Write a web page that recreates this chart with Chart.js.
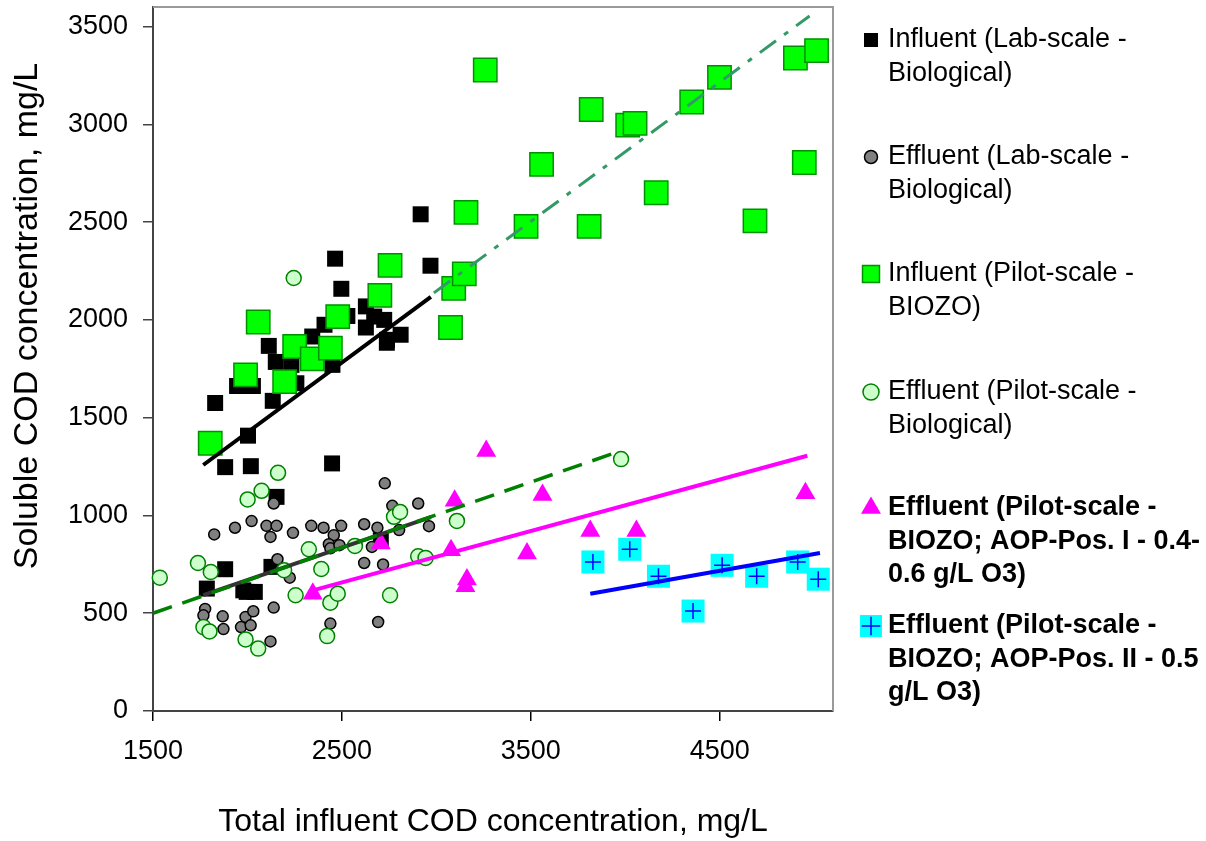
<!DOCTYPE html>
<html>
<head>
<meta charset="utf-8">
<title>Soluble vs total influent COD</title>
<script src="https://cdn.jsdelivr.net/npm/chart.js@4.4.0/dist/chart.umd.min.js"></script>
<style>
    html, body { margin: 0; padding: 0; background: #ffffff; }
    #wrap { width: 1206px; height: 841px; }
</style>
</head>
<body>
<div id="wrap"><canvas id="codChart" width="1206" height="841"></canvas></div>
<script>
// ---- axis ticks ----
const xTicks = [1500, 2500, 3500, 4500];
const yTicks = [0, 500, 1000, 1500, 2000, 2500, 3000, 3500];

// ---- series labels (line breaks as in the legend) ----
const seriesLabels = [
    'Influent (Lab-scale -\nBiological)',
    'Effluent (Lab-scale -\nBiological)',
    'Influent (Pilot-scale -\nBIOZO)',
    'Effluent (Pilot-scale -\nBiological)',
    'Effluent (Pilot-scale -\nBIOZO; AOP-Pos. I - 0.4-\n0.6 g/L O3)',
    'Effluent (Pilot-scale -\nBIOZO; AOP-Pos. II - 0.5\ng/L O3)'
];

// Influent (Lab-scale - Biological)
const labInfX = [1803, 1829, 1882, 2018, 2003, 1945, 2029, 2113, 2150, 2134, 2917, 2464, 2969, 2497, 2627, 2671, 2724, 2627,
    2739, 2811, 2408, 2343, 2450, 2448, 2154, 1882, 1785, 1996, 2039, 2127, 2706, 2738, 1978, 2233, 2529, 2259];
const labInfY = [1351, 1575, 1247, 1252, 1408, 1662, 1662, 1867, 1785, 1586, 2540, 2313, 2277, 2159, 2069, 2017, 2000, 1961,
    1898, 1924, 1975, 1915, 1770, 1266, 1095, 725, 626, 609, 609, 737, 873, 1883, 617, 1770, 2020, 1676];

// Effluent (Lab-scale - Biological)
const labEffX = [2727, 2139, 2904, 2767, 2022, 1934, 1824, 2101, 2154, 2122, 2241, 2338, 2403, 2496, 2457, 2618, 2688, 2961,
    2803, 2431, 2439, 2487, 2659, 2159, 2224, 2618, 2718, 1776, 1767, 1869, 1873, 1966, 1990, 2031, 2017, 2139, 2122, 2439, 2692];
const labEffY = [1164, 1061, 1061, 1049, 971, 937, 903, 947, 947, 890, 911, 947, 937, 947, 899, 955, 937, 945,
    925, 853, 832, 848, 839, 776, 682, 757, 749, 522, 489, 484, 419, 429, 481, 510, 438, 529, 356, 447, 455];

// Influent (Pilot-scale - BIOZO)
const pilotInfX = [1803, 1990, 2057, 2197, 2250, 2343, 2439, 2478, 2701, 2755, 3075, 3092, 3148, 3157, 3259, 3475, 3557, 3809,
    3820, 4013, 4052, 4164, 4352, 4499, 4687, 4901, 4948, 5013];
const pilotInfY = [1369, 1719, 1989, 1684, 1864, 1801, 1856, 2017, 2125, 2279, 1961, 2161, 2235, 2550, 3278, 2478, 2795, 2478,
    3076, 2996, 3005, 2650, 3114, 3240, 2506, 3339, 2805, 3377];

// Effluent (Pilot-scale - Biological)
const pilotEffX = [1536, 1738, 1806, 1767, 1799, 1990, 2057, 2162, 2075, 2001, 2194, 2255, 2325, 2391, 2439, 2478, 2422, 2569,
    2755, 2776, 2808, 2904, 2943, 3109, 2245, 3978];
const pilotEffY = [682, 757, 711, 429, 407, 366, 319, 1218, 1126, 1082, 720, 592, 827, 726, 554, 600, 383, 844,
    592, 993, 1018, 791, 783, 972, 2214, 1288];

// Effluent (Pilot-scale - BIOZO; AOP-Pos. I)
const aopOneX = [3264, 3097, 3562, 4954, 3815, 4059, 3078, 3480, 3162, 3154, 2706, 2346];
const aopOneY = [1329, 1075, 1104, 1113, 921, 921, 822, 805, 672, 638, 857, 600];

// Effluent (Pilot-scale - BIOZO; AOP-Pos. II)
const aopTwoX = [3829, 4024, 4176, 4359, 4513, 4696, 4913, 5022];
const aopTwoY = [762, 827, 689, 511, 745, 689, 762, 674];

// Trend lines (end points)
const labInfTrendX = [1766, 2971];
const labInfTrendY = [1258, 2118];
const pilotInfTrendX = [2987, 4976];
const pilotInfTrendY = [2138, 3554];
const labEffTrendX = [1766, 2971];
const labEffTrendY = [592, 991];
const pilotEffTrendX = [1500, 3943];
const pilotEffTrendY = [500, 1319];
const aopOneTrendX = [2346, 4964];
const aopOneTrendY = [617, 1305];
const aopTwoTrendX = [3815, 5031];
const aopTwoTrendY = [600, 808];

const FONT = '"Liberation Sans", Arial, sans-serif';

function toPoints(xs, ys) {
    return xs.map((x, i) => ({ x: x, y: ys[i] }));
}

// Draw one marker shape the same way Chart.js does
function drawMarker(ctx, style, x, y, r, fill, stroke, lineWidth) {
    ctx.save();
    ctx.beginPath();
    if (style === 'rect') {
        const s = r * Math.SQRT1_2;
        ctx.rect(x - s, y - s, 2 * s, 2 * s);
    } else if (style === 'circle') {
        ctx.arc(x, y, r, 0, Math.PI * 2);
    } else if (style === 'triangle') {
        const w = r * Math.sin(Math.PI * 2 / 3);
        ctx.moveTo(x, y - r);
        ctx.lineTo(x + w, y + r / 2);
        ctx.lineTo(x - w, y + r / 2);
        ctx.closePath();
    } else if (style === 'cross') {
        ctx.moveTo(x, y - r);
        ctx.lineTo(x, y + r);
        ctx.moveTo(x - r, y);
        ctx.lineTo(x + r, y);
    }
    if (fill && style !== 'cross') {
        ctx.fillStyle = fill;
        ctx.fill();
    }
    if (stroke && lineWidth) {
        ctx.strokeStyle = stroke;
        ctx.lineWidth = lineWidth;
        ctx.stroke();
    }
    ctx.restore();
}

// Plot frame (top and right edges) drawn under the markers
const plotFrame = {
    id: 'plotFrame',
    beforeDatasetsDraw(chart) {
        const { ctx, chartArea } = chart;
        ctx.save();
        ctx.strokeStyle = '#9a9a9a';
        ctx.lineWidth = 2;
        ctx.beginPath();
        ctx.moveTo(chartArea.left, chartArea.top);
        ctx.lineTo(chartArea.right, chartArea.top);
        ctx.lineTo(chartArea.right, chartArea.bottom);
        ctx.stroke();
        ctx.restore();
    }
};

// Vertical axis title, placed like the original (a bit above the axis centre)
const yTitle = {
    id: 'yTitle',
    afterDraw(chart, args, opts) {
        const ctx = chart.ctx;
        ctx.save();
        ctx.translate(opts.x, opts.y);
        ctx.rotate(-Math.PI / 2);
        ctx.font = opts.size + 'px ' + FONT;
        ctx.fillStyle = '#000';
        ctx.textAlign = 'center';
        ctx.textBaseline = 'middle';
        ctx.fillText(opts.text, 0, 0);
        ctx.restore();
    }
};

// Legend on the right with wrapped labels
const sideLegend = {
    id: 'sideLegend',
    afterDraw(chart, args, opts) {
        const ctx = chart.ctx;
        opts.rows.forEach((rowY, i) => {
            const ds = chart.data.datasets[i];
            const r = opts.iconRadius[i];
            drawMarker(ctx, ds.pointStyle, opts.iconX, rowY, r, ds.backgroundColor, ds.borderColor, ds.borderWidth);
            if (i === 5) {
                const cross = chart.data.datasets[6];
                drawMarker(ctx, 'cross', opts.iconX, rowY, r * 0.6, null, cross.borderColor, cross.borderWidth);
            }
            ctx.save();
            ctx.font = (opts.bold[i] ? 'bold ' : '') + opts.size + 'px ' + FONT;
            ctx.fillStyle = '#000';
            ctx.textAlign = 'left';
            ctx.textBaseline = 'middle';
            seriesLabels[i].split('\n').forEach((line, k) => {
                ctx.fillText(line, opts.textX, rowY + k * opts.lineHeight);
            });
            ctx.restore();
        });
    }
};

function markerSet(label, xs, ys, style, radius, fill, stroke, width, order) {
    return {
        label: label,
        data: toPoints(xs, ys),
        pointStyle: style,
        pointRadius: radius,
        pointHoverRadius: radius,
        backgroundColor: fill,
        borderColor: stroke,
        borderWidth: width,
        showLine: false,
        clip: false,
        order: order
    };
}

function trendSet(xs, ys, color, width, dash, order) {
    return {
        label: 'trend',
        data: toPoints(xs, ys),
        showLine: true,
        pointRadius: 0,
        pointHoverRadius: 0,
        borderColor: color,
        backgroundColor: color,
        borderWidth: width,
        borderDash: dash,
        fill: false,
        order: order
    };
}

// plain numbers on the axes (no thousands separator)
function plainTick(value) {
    return String(value);
}

function initializeCodChart() {
    const canvas = document.getElementById('codChart');
    if (!canvas) {
        console.error('Chart canvas not found');
        return;
    }

    const datasets = [
        markerSet(seriesLabels[0], labInfX, labInfY, 'rect', 11.3, '#000000', '#000000', 0, 20),
        markerSet(seriesLabels[1], labEffX, labEffY, 'circle', 5.5, '#808080', '#000000', 1.5, 19),
        markerSet(seriesLabels[2], pilotInfX, pilotInfY, 'rect', 16.5, '#00ff00', '#009100', 1.5, 18),
        markerSet(seriesLabels[3], pilotEffX, pilotEffY, 'circle', 7.5, '#ccffcc', '#008000', 1.5, 17),
        markerSet(seriesLabels[4], aopOneX, aopOneY, 'triangle', 11.5, '#ff00ff', '#ff00ff', 0, 16),
        markerSet(seriesLabels[5], aopTwoX, aopTwoY, 'rect', 16.3, '#00ffff', '#00ffff', 0, 15),
        markerSet('cross', aopTwoX, aopTwoY, 'cross', 8, '#0000ff', '#0000ff', 1.5, 14),
        trendSet(labInfTrendX, labInfTrendY, '#000000', 4, [], 6),
        trendSet(pilotInfTrendX, pilotInfTrendY, '#339966', 3, [20, 10, 5, 10], 5),
        trendSet(labEffTrendX, labEffTrendY, '#333333', 4, [], 4),
        trendSet(pilotEffTrendX, pilotEffTrendY, '#008000', 3.5, [20, 11], 3),
        trendSet(aopOneTrendX, aopOneTrendY, '#ff00ff', 4, [], 2),
        trendSet(aopTwoTrendX, aopTwoTrendY, '#0000ff', 4, [], 1)
    ];

    try {
        const chart = new Chart(canvas.getContext('2d'), {
            type: 'scatter',
            data: { datasets: datasets },
            plugins: [plotFrame, yTitle, sideLegend],
            options: {
                responsive: false,
                animation: false,
                events: [],
                layout: { autoPadding: false, padding: { left: 0, right: 373, top: 7, bottom: 0 } },
                plugins: {
                    legend: { display: false },
                    tooltip: { enabled: false },
                    yTitle: { text: 'Soluble COD concentration, mg/L', x: 28, y: 316, size: 34 },
                    sideLegend: {
                        rows: [40, 157, 274, 392, 508, 626],
                        iconX: 871,
                        iconRadius: [9.9, 6.5, 12, 8, 11.5, 15.5],
                        bold: [false, false, false, false, true, true],
                        textX: 888,
                        lineHeight: 33.5,
                        size: 27
                    }
                },
                scales: {
                    x: {
                        type: 'linear',
                        min: 1500,
                        max: 5100,
                        afterBuildTicks: function(scale) {
                            scale.ticks = xTicks.map(v => ({ value: v }));
                        },
                        afterFit: function(scale) {
                            scale.height = 130;
                            scale.paddingLeft = 0;
                            scale.paddingRight = 0;
                        },
                        grid: { drawOnChartArea: false, drawTicks: true, tickLength: 10, color: '#000000', lineWidth: 1.5 },
                        border: { display: true, color: '#444444', width: 2 },
                        ticks: {
                            padding: 14,
                            color: '#000000',
                            font: { family: FONT, size: 27 },
                            maxRotation: 0,
                            autoSkip: false,
                            callback: plainTick
                        },
                        title: {
                            display: true,
                            text: 'Total influent COD concentration, mg/L',
                            color: '#000000',
                            font: { family: FONT, size: 32 },
                            padding: { top: 0, bottom: 0 }
                        }
                    },
                    y: {
                        type: 'linear',
                        min: 0,
                        max: 3600,
                        afterBuildTicks: function(scale) {
                            scale.ticks = yTicks.map(v => ({ value: v }));
                        },
                        afterFit: function(scale) {
                            // keep the plot box where the original has it
                            scale.width = 153;
                            scale.paddingTop = 0;
                            scale.paddingBottom = 0;
                        },
                        grid: { drawOnChartArea: false, drawTicks: true, tickLength: 10, color: '#444444', lineWidth: 1.5 },
                        border: { display: true, color: '#444444', width: 2 },
                        ticks: {
                            padding: 15,
                            color: '#000000',
                            font: { family: FONT, size: 27 },
                            autoSkip: false,
                            callback: plainTick
                        },
                        title: { display: false }
                    }
                }
            }
        });
        console.log('COD chart initialized');
        return chart;
    } catch (error) {
        console.error('Error initializing COD chart:', error);
    }
}

initializeCodChart();
</script>
</body>
</html>
